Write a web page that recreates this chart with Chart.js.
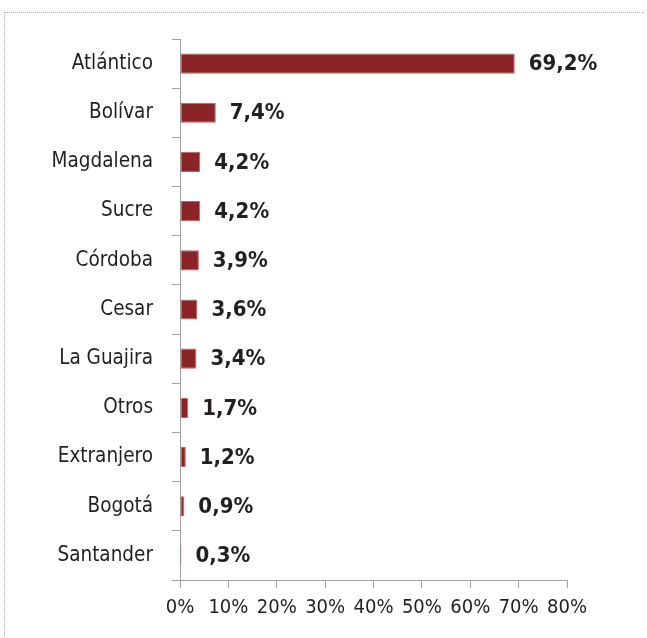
<!DOCTYPE html>
<html>
<head>
<meta charset="utf-8">
<script src="https://cdn.jsdelivr.net/npm/chart.js@4"></script>
<style>
  html, body { margin: 0; padding: 0; background: #fff; }
  #wrap { position: relative; width: 647px; height: 638px; overflow: hidden; }
  #frame { position: absolute; left: 4px; top: 12px; width: 639px; height: 640px;
           border-top: 1px dotted #b0b0b0; border-left: 1px dotted #b0b0b0; }
  canvas { position: absolute; left: 0; top: 0; }
</style>
</head>
<body>
<div id="wrap">
  <div id="frame"></div>
  <canvas id="shareChart" width="647" height="638"></canvas>
</div>
<script>
// Chart data
const categories = ['Atlántico', 'Bolívar', 'Magdalena', 'Sucre', 'Córdoba', 'Cesar',
                    'La Guajira', 'Otros', 'Extranjero', 'Bogotá', 'Santander'];
const shares = [69.2, 7.4, 4.2, 4.2, 3.9, 3.6, 3.4, 1.7, 1.2, 0.9, 0.3];
const xTickValues = [0, 10, 20, 30, 40, 50, 60, 70, 80];

const fontFamily = "'Liberation Sans Narrow', 'DejaVu Sans Condensed', sans-serif";
const textColor = '#231f20';
const axisColor = '#a0a0a0';

// draws the bold value labels at the end of each bar
const valueLabels = {
    id: 'valueLabels',
    afterDatasetsDraw(chart) {
        const ctx = chart.ctx;
        const meta = chart.getDatasetMeta(0);
        ctx.save();
        ctx.font = "bold 22px " + fontFamily;
        ctx.fillStyle = textColor;
        ctx.textAlign = 'left';
        ctx.textBaseline = 'middle';
        meta.data.forEach((bar, i) => {
            const txt = shares[i].toFixed(1).replace('.', ',') + '%';
            ctx.fillText(txt, bar.x + 14, bar.y + 1);
        });
        ctx.restore();
    }
};

const ctx = document.getElementById('shareChart').getContext('2d');
new Chart(ctx, {
    type: 'bar',
    data: {
        labels: categories,
        datasets: [{
            data: shares,
            backgroundColor: '#8b2427',
            borderColor: '#b86468',
            borderWidth: 1,
            borderSkipped: false,
            categoryPercentage: 1,
            barPercentage: 0.41
        }]
    },
    options: {
        indexAxis: 'y',
        responsive: false,
        animation: false,
        layout: { padding: { left: 0, top: 39, right: 80, bottom: 0 } },
        plugins: {
            legend: { display: false },
            tooltip: { enabled: false }
        },
        scales: {
            x: {
                min: 0,
                max: 80,
                afterBuildTicks: (scale) => { scale.ticks = xTickValues.map(v => ({ value: v })); },
                afterFit: (scale) => { scale.height = 58; },
                grid: { drawOnChartArea: false, drawTicks: true, tickLength: 8, color: axisColor },
                border: { display: true, color: axisColor, width: 1 },
                ticks: {
                    padding: 8,
                    color: textColor,
                    font: { family: fontFamily, size: 20 },
                    callback: (v) => v + '%',
                    maxRotation: 0,
                    autoSkip: false
                }
            },
            y: {
                afterFit: (scale) => { scale.width = 180; },
                grid: { drawOnChartArea: false, drawTicks: true, tickLength: 8, color: axisColor, offset: true },
                border: { display: true, color: axisColor, width: 1 },
                ticks: {
                    padding: 19,
                    color: textColor,
                    font: { family: fontFamily, size: 20.5 }
                }
            }
        }
    },
    plugins: [valueLabels]
});
</script>
</body>
</html>
